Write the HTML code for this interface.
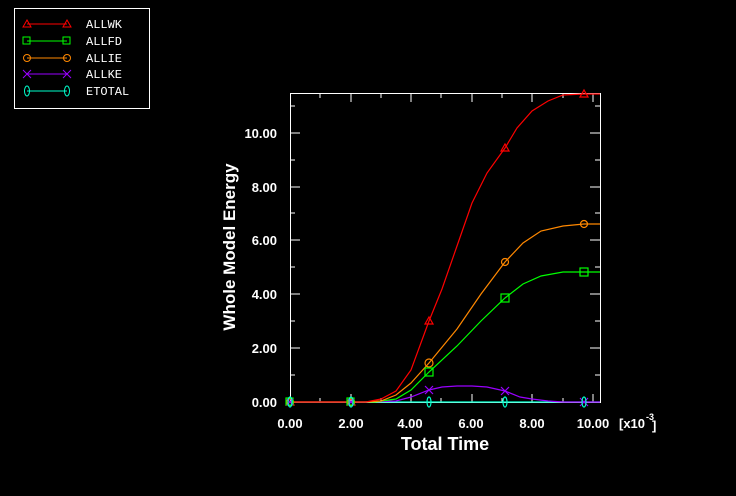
<!DOCTYPE html>
<html><head><style>
html,body{margin:0;padding:0;background:#000;}
svg{display:block}
.t{font-family:"Liberation Sans",sans-serif;font-weight:bold;fill:#fff}
.m{font-family:"Liberation Mono",monospace;fill:#fff;font-size:12px}
</style></head><body>
<svg width="736" height="496" viewBox="0 0 736 496" xmlns="http://www.w3.org/2000/svg">
<rect width="736" height="496" fill="#000"/>
<rect x="14.5" y="8.5" width="135" height="100" fill="none" stroke="#fff"/>
<g stroke-width="1" fill="none">
<line x1="27" y1="24" x2="67" y2="24" stroke="#f00"/>
<path d="M23,27 L27,20 L31,27 Z M63,27 L67,20 L71,27 Z" stroke="#f00"/>
<line x1="27" y1="41" x2="67" y2="41" stroke="#0f0"/>
<rect x="23" y="37" width="7" height="7" stroke="#0f0"/><rect x="63" y="37" width="7" height="7" stroke="#0f0"/>
<line x1="27" y1="58" x2="67" y2="58" stroke="#f80"/>
<circle cx="27" cy="58" r="3.5" stroke="#f80"/><circle cx="67" cy="58" r="3.5" stroke="#f80"/>
<line x1="27" y1="74" x2="67" y2="74" stroke="#90f"/>
<path d="M23,70 L31,78 M31,70 L23,78 M63,70 L71,78 M71,70 L63,78" stroke="#90f"/>
<line x1="27" y1="91" x2="67" y2="91" stroke="#0fc"/>
<ellipse cx="27" cy="91" rx="2.5" ry="5" stroke="#0fc"/><ellipse cx="67" cy="91" rx="2.5" ry="5" stroke="#0fc"/>
</g>
<text class="m" x="86" y="28">ALLWK</text>
<text class="m" x="86" y="45">ALLFD</text>
<text class="m" x="86" y="62">ALLIE</text>
<text class="m" x="86" y="78">ALLKE</text>
<text class="m" x="86" y="95">ETOTAL</text>
<rect x="290.5" y="93.5" width="310" height="309" fill="none" stroke="#fff"/>
<g stroke="#fff">
<path d="M351,402v-8M411,402v-8M472,402v-8M532,402v-8M593,402v-8
M320,402v-4M381,402v-4M441,402v-4M502,402v-4M563,402v-4
M351,94v8M411,94v8M472,94v8M532,94v8M593,94v8
M320,94v4M381,94v4M441,94v4M502,94v4M563,94v4
M290,348h10M290,294h10M290,240h10M290,187h10M290,133h10
M290,375h5M290,321h5M290,267h5M290,213h5M290,160h5M290,106h5
M600,348h-10M600,294h-10M600,240h-10M600,187h-10M600,133h-10
M600,375h-5M600,321h-5M600,267h-5M600,213h-5M600,160h-5M600,106h-5"/>
</g>
<g class="t" font-size="13" text-anchor="end">
<text x="277" y="407">0.00</text>
<text x="277" y="353">2.00</text>
<text x="277" y="299">4.00</text>
<text x="277" y="245">6.00</text>
<text x="277" y="192">8.00</text>
<text x="277" y="138">10.00</text>
</g>
<g class="t" font-size="13" text-anchor="middle">
<text x="290" y="428">0.00</text>
<text x="351" y="428">2.00</text>
<text x="410" y="428">4.00</text>
<text x="471" y="428">6.00</text>
<text x="532" y="428">8.00</text>
<text x="593" y="428">10.00</text>
</g>
<text class="t" font-size="13" x="619" y="428">[x10</text>
<text class="t" font-size="9" x="646" y="420">-3</text>
<text class="t" font-size="13" x="652" y="430">]</text>
<text class="t" font-size="18" x="445" y="450" text-anchor="middle">Total Time</text>
<text class="t" font-size="17" transform="translate(235,247) rotate(-90)" text-anchor="middle">Whole Model Energy</text>
<g fill="none" stroke-width="1.2">
<polyline stroke="#0fc" points="290,402 600,402"/>
<polyline stroke="#90f" points="290,402 366,402 396,401 411,397 429,390 442,387 457,386 472,386 487,387 505,391 520,397 532,399 548,401 563,402 600,402"/>
<polyline stroke="#0f0" points="290,402 375,402 396,399 411,390 429,372 457,346 481,321 505,298 523,284 541,276 563,272 600,272"/>
<polyline stroke="#f80" points="290,402 366,402 381,401 396,395 411,383 429,363 457,329 481,294 505,262 523,243 541,231 563,226 584,224 600,224"/>
<polyline stroke="#f00" points="290,402 366,402 381,399 396,391 411,370 429,321 442,289 457,246 472,203 487,173 505,148 517,128 532,111 548,101 563,95 584,94 600,94"/>
<g stroke="#f00"><path d="M286,405L290,398L294,405ZM347,405L351,398L355,405ZM425,324L429,317L433,324ZM501,151L505,144L509,151ZM580,97L584,90L588,97Z"/></g>
<g stroke="#f80"><circle cx="290" cy="402" r="3.5"/><circle cx="351" cy="402" r="3.5"/><circle cx="429" cy="363" r="4"/><circle cx="505" cy="262" r="3.5"/><circle cx="584" cy="224" r="3.5"/></g>
<g stroke="#0f0"><rect x="286" y="398" width="7" height="7"/><rect x="347" y="398" width="7" height="7"/><rect x="425" y="368" width="8" height="8"/><rect x="501" y="294" width="8" height="8"/><rect x="580" y="268" width="8" height="8"/></g>
<g stroke="#90f"><path d="M425,386l8,8m0,-8l-8,8M501,387l8,8m0,-8l-8,8M580,398l8,8m0,-8l-8,8M287,399l6,6m0,-6l-6,6M348,399l6,6m0,-6l-6,6"/></g>
<g stroke="#0fc"><ellipse cx="290" cy="402" rx="2" ry="5"/><ellipse cx="351" cy="402" rx="2" ry="5"/><ellipse cx="429" cy="402" rx="2" ry="5"/><ellipse cx="505" cy="402" rx="2" ry="5"/><ellipse cx="584" cy="402" rx="2" ry="5"/></g>
</g>
</svg>
</body></html>
